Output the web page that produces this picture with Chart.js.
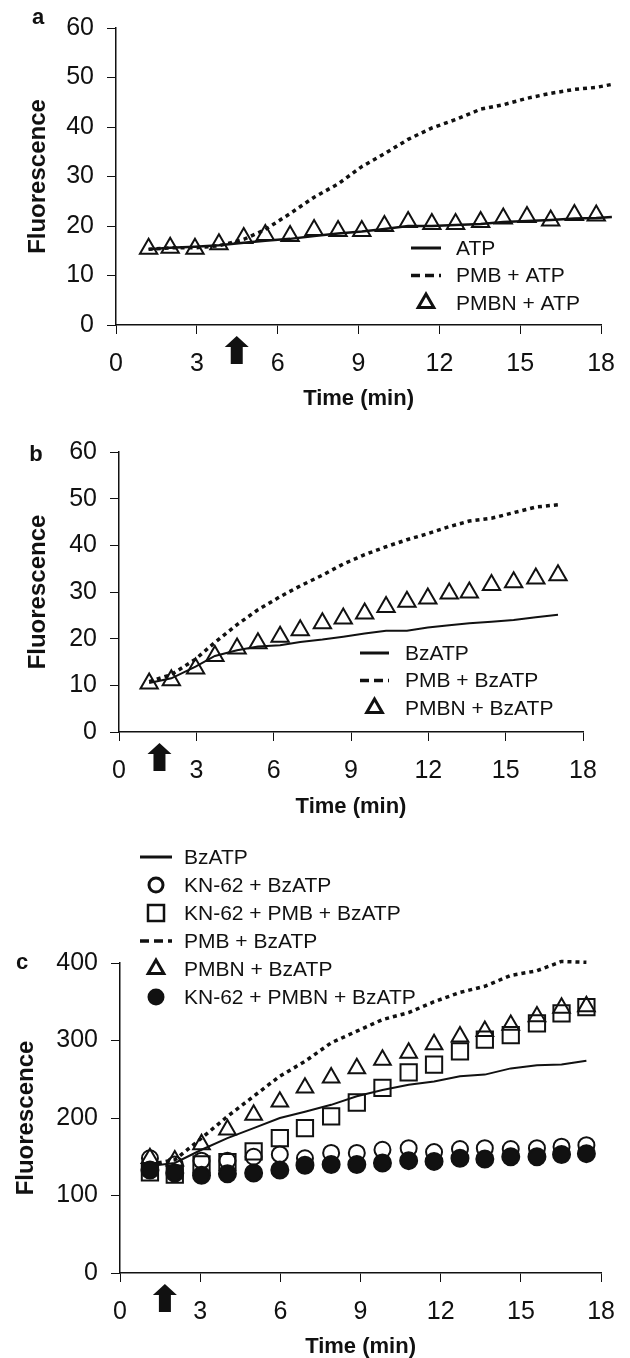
<!DOCTYPE html>
<html lang="en">
<head>
<meta charset="UTF-8">
<title>Fluorescence time courses</title>
<script src="https://cdn.jsdelivr.net/npm/chart.js"></script>
<style>
  body { margin: 0; background: #fff; }
  #wrap { position: relative; width: 630px; height: 1358px; }
  canvas { position: absolute; left: 0; }
</style>
</head>
<body>
<div id="wrap">
  <canvas id="chart-a" width="630" height="420" style="top:0"></canvas>
  <canvas id="chart-b" width="630" height="420" style="top:420px"></canvas>
  <canvas id="chart-c" width="630" height="518" style="top:840px"></canvas>
</div>

<script>
// ---- panel a: ATP ----
const timeA     = [1.21, 2.01, 2.93, 3.82, 4.74, 5.54, 6.46, 7.35, 8.24, 9.12, 9.96, 10.84, 11.72, 12.6, 13.53, 14.37, 15.25, 16.13, 17.01, 17.82];
const lineTimeA = [1.21, 2.01, 2.93, 3.82, 4.74, 5.54, 6.46, 7.35, 8.24, 9.12, 9.96, 10.84, 11.72, 12.6, 13.53, 14.37, 15.25, 16.13, 17.01, 17.82, 18.4];
const atpA      = [15.3, 15.6, 15.8, 16.1, 16.6, 17.0, 17.4, 18.0, 18.5, 18.9, 19.4, 20.0, 20.0, 20.2, 20.4, 20.8, 21.0, 21.2, 21.5, 21.6, 21.8];
const pmbAtpA   = [15.3, 15.6, 15.6, 16.0, 17.3, 19.3, 22.5, 25.8, 28.5, 32.0, 34.6, 37.5, 39.8, 41.5, 43.6, 44.5, 45.8, 46.8, 47.6, 48.0, 48.6];
const pmbnAtpA  = [15.4, 15.6, 15.4, 16.3, 17.6, 18.2, 18.0, 19.2, 19.0, 19.0, 20.0, 20.8, 20.4, 20.4, 20.8, 21.5, 21.8, 21.1, 22.2, 22.1];

// ---- panel b: BzATP ----
const timeB      = [1.17, 2.03, 2.97, 3.72, 4.58, 5.39, 6.25, 7.03, 7.89, 8.70, 9.53, 10.36, 11.17, 11.98, 12.81, 13.59, 14.45, 15.31, 16.17, 17.03];
const bzB        = [10.5, 11.5, 14.0, 16.3, 17.5, 18.3, 18.6, 19.3, 19.8, 20.4, 21.1, 21.7, 21.7, 22.4, 22.9, 23.3, 23.6, 24.0, 24.6, 25.1];
const pmbBzB     = [10.8, 12.3, 15.6, 19.2, 23.0, 26.2, 29.0, 31.3, 33.6, 36.0, 38.0, 39.7, 41.2, 42.5, 44.0, 45.2, 45.8, 47.0, 48.2, 48.7];
const pmbnBzB    = [10.4, 11.1, 13.6, 16.3, 17.9, 19.0, 20.4, 21.8, 23.3, 24.3, 25.4, 26.8, 27.9, 28.6, 29.7, 29.9, 31.5, 32.1, 32.9, 33.6];

// ---- panel c: KN-62 ----
const timeC        = [1.12, 2.05, 3.05, 4.02, 5.0, 5.98, 6.92, 7.9, 8.86, 9.82, 10.8, 11.75, 12.72, 13.65, 14.62, 15.6, 16.52, 17.45];
const bzC          = [138, 142, 159, 174, 187, 200, 208, 217, 228, 236, 243, 247, 254, 256, 264, 268, 269, 274];
const knBzC        = [148, 140, 145, 145, 150, 153, 148, 155, 155, 159, 161, 156, 160, 161, 160, 161, 163, 165];
const knPmbBzC     = [130, 127, 140, 143, 157, 174, 187, 202, 220, 239, 259, 269, 286, 301, 307, 322, 335, 343];
const pmbBzC       = [140, 146, 174, 202, 228, 254, 273, 297, 312, 327, 336, 350, 362, 370, 384, 390, 402, 401];
const pmbnBzC      = [148, 145, 166, 185, 204, 221, 239, 252, 264, 275, 284, 295, 305, 312, 320, 331, 342, 344];
const knPmbnBzC    = [133, 129, 126, 128, 129, 133, 139, 140, 140, 142, 145, 144, 148, 147, 150, 150, 153, 154];

// arrow marks (time of addition, min)
const arrowA = 4.48, arrowB = 1.57, arrowC = 1.68;

Chart.defaults.font.family = '"Liberation Sans", Arial, sans-serif';
Chart.defaults.color = '#111';

const pts = (xs, ys) => ys.map((y, i) => ({ x: xs[i], y }));

function solid(label, xs, ys, w) {
  return { label, data: pts(xs, ys), showLine: true, borderColor: '#111', borderWidth: w, pointRadius: 0, tension: 0, clip: false };
}
function dashed(label, xs, ys) {
  return { label, data: pts(xs, ys), showLine: true, borderColor: '#111', borderWidth: 3.5, borderDash: [4, 4], pointRadius: 0, tension: 0, clip: false };
}
function marks(label, xs, ys, style, r, filled) {
  return {
    label, data: pts(xs, ys), showLine: false, pointStyle: style, pointRadius: r,
    pointBorderWidth: 2, pointBorderColor: '#111',
    pointBackgroundColor: filled ? '#111' : 'rgba(0,0,0,0)', borderColor: '#111', clip: false
  };
}

// draws panel letter, arrow below x axis and the in-plot legend
const extras = {
  id: 'extras',
  afterDraw(chart, args, o) {
    const ctx = chart.ctx, area = chart.chartArea;
    ctx.save();
    ctx.fillStyle = '#111'; ctx.strokeStyle = '#111';
    // letter
    ctx.font = 'bold 22px "Liberation Sans", Arial, sans-serif';
    ctx.textAlign = 'center'; ctx.textBaseline = 'middle';
    ctx.fillText(o.letter.text, o.letter.x, o.letter.y);
    // arrow
    const ax = chart.scales.x.getPixelForValue(o.arrowAt);
    const y0 = area.bottom + 11;
    ctx.beginPath();
    ctx.moveTo(ax, y0);
    ctx.lineTo(ax + 12, y0 + 11);
    ctx.lineTo(ax + 6, y0 + 11);
    ctx.lineTo(ax + 6, y0 + 28);
    ctx.lineTo(ax - 6, y0 + 28);
    ctx.lineTo(ax - 6, y0 + 11);
    ctx.lineTo(ax - 12, y0 + 11);
    ctx.closePath();
    ctx.fill();
    // legend
    const L = o.legend;
    ctx.font = '21px "Liberation Sans", Arial, sans-serif';
    ctx.textAlign = 'left';
    L.items.forEach((it, i) => {
      const y = L.top + i * L.gap;
      const cx = (L.x0 + L.x1) / 2;
      ctx.setLineDash([]);
      ctx.lineWidth = 2.5;
      ctx.beginPath();
      if (it.kind === 'solid') {
        ctx.lineWidth = 3;
        ctx.moveTo(L.x0, y); ctx.lineTo(L.x1, y); ctx.stroke();
      } else if (it.kind === 'dash') {
        ctx.lineWidth = 3.5; ctx.setLineDash([9, 5]);
        ctx.moveTo(L.x0, y); ctx.lineTo(L.x1, y); ctx.stroke();
      } else if (it.kind === 'tri') {
        const r = 9;
        ctx.moveTo(cx, y - r);
        ctx.lineTo(cx + r * 0.866, y + r * 0.5);
        ctx.lineTo(cx - r * 0.866, y + r * 0.5);
        ctx.closePath(); ctx.lineWidth = 3; ctx.stroke();
      } else if (it.kind === 'circ') {
        ctx.arc(cx, y, 7, 0, Math.PI * 2); ctx.lineWidth = 3; ctx.stroke();
      } else if (it.kind === 'dot') {
        ctx.arc(cx, y, 8.5, 0, Math.PI * 2); ctx.fill();
      } else if (it.kind === 'sq') {
        ctx.rect(cx - 8, y - 8, 16, 16); ctx.stroke();
      }
      ctx.fillText(it.text, L.xText, y + 1);
    });
    ctx.restore();
  }
};

function makeChart(id, datasets, cfg) {
  return new Chart(document.getElementById(id), {
    type: 'scatter',
    data: { datasets },
    plugins: [extras],
    options: {
      responsive: false,
      animation: false,
      layout: { padding: cfg.padding },
      plugins: {
        legend: { display: false },
        tooltip: { enabled: false },
        extras: cfg.extras
      },
      scales: {
        x: {
          type: 'linear', min: 0, max: 18,
          afterFit: s => { s.height = cfg.xHeight; },
          ticks: { stepSize: 3, font: { size: 25 }, padding: 15, color: '#111' },
          grid: { drawOnChartArea: false, drawTicks: true, tickLength: 9, color: '#111' },
          border: { display: true, color: '#111', width: 1.5 },
          title: { display: true, text: 'Time (min)', font: { size: 22, weight: 'bold', lineHeight: 1 }, padding: { top: 0, bottom: cfg.xTitlePad }, color: '#111' }
        },
        y: {
          min: 0, max: cfg.yMax,
          afterFit: s => { s.width = cfg.yWidth; },
          ticks: { stepSize: cfg.yStep, font: { size: 25 }, padding: 13, color: '#111' },
          grid: { drawOnChartArea: false, drawTicks: true, tickLength: 9, color: '#111' },
          border: { display: true, color: '#111', width: 1.5 },
          title: { display: true, text: 'Fluorescence', font: { size: 24, weight: 'bold', lineHeight: 1 }, padding: { top: cfg.yTitlePad, bottom: 0 }, color: '#111' }
        }
      }
    }
  });
}

makeChart('chart-a', [
  marks('PMBN + ATP', timeA, pmbnAtpA, 'triangle', 10, false),
  solid('ATP', lineTimeA, atpA, 2.5),
  dashed('PMB + ATP', lineTimeA, pmbAtpA)
], {
  padding: { left: 0, right: 18, top: 17, bottom: 0 },
  xHeight: 95, xTitlePad: 10,
  yWidth: 116, yTitlePad: 26, yMax: 60, yStep: 10,
  extras: {
    letter: { text: 'a', x: 38, y: 18 },
    arrowAt: arrowA,
    legend: { x0: 411, x1: 441, xText: 456, top: 248, gap: 27.5, items: [
      { text: 'ATP', kind: 'solid' },
      { text: 'PMB + ATP', kind: 'dash' },
      { text: 'PMBN + ATP', kind: 'tri' }
    ] }
  }
});

makeChart('chart-b', [
  marks('PMBN + BzATP', timeB, pmbnBzB, 'triangle', 10, false),
  solid('BzATP', timeB, bzB, 2),
  dashed('PMB + BzATP', timeB, pmbBzB)
], {
  padding: { left: 0, right: 47, top: 32, bottom: 0 },
  xHeight: 108, xTitlePad: 22,
  yWidth: 119, yTitlePad: 26, yMax: 60, yStep: 10,
  extras: {
    letter: { text: 'b', x: 36, y: 35 },
    arrowAt: arrowB,
    legend: { x0: 360, x1: 389, xText: 405, top: 233, gap: 27.5, items: [
      { text: 'BzATP', kind: 'solid' },
      { text: 'PMB + BzATP', kind: 'dash' },
      { text: 'PMBN + BzATP', kind: 'tri' }
    ] }
  }
});

makeChart('chart-c', [
  marks('KN-62 + PMBN + BzATP', timeC, knPmbnBzC, 'circle', 8.5, true),
  marks('KN-62 + BzATP', timeC, knBzC, 'circle', 8, false),
  marks('PMBN + BzATP', timeC, pmbnBzC, 'triangle', 9.6, false),
  marks('KN-62 + PMB + BzATP', timeC, knPmbBzC, 'rect', 11.5, false),
  solid('BzATP', timeC, bzC, 2),
  dashed('PMB + BzATP', timeC, pmbBzC)
], {
  padding: { left: 0, right: 21, top: 123, bottom: 0 },
  xHeight: 85, xTitlePad: 0,
  yWidth: 120, yTitlePad: 14, yMax: 400, yStep: 100,
  extras: {
    letter: { text: 'c', x: 22, y: 123 },
    arrowAt: arrowC,
    legend: { x0: 140, x1: 172, xText: 184, top: 17, gap: 28, items: [
      { text: 'BzATP', kind: 'solid' },
      { text: 'KN-62 + BzATP', kind: 'circ' },
      { text: 'KN-62 + PMB + BzATP', kind: 'sq' },
      { text: 'PMB + BzATP', kind: 'dash' },
      { text: 'PMBN + BzATP', kind: 'tri' },
      { text: 'KN-62 + PMBN + BzATP', kind: 'dot' }
    ] }
  }
});
</script>
</body>
</html>
